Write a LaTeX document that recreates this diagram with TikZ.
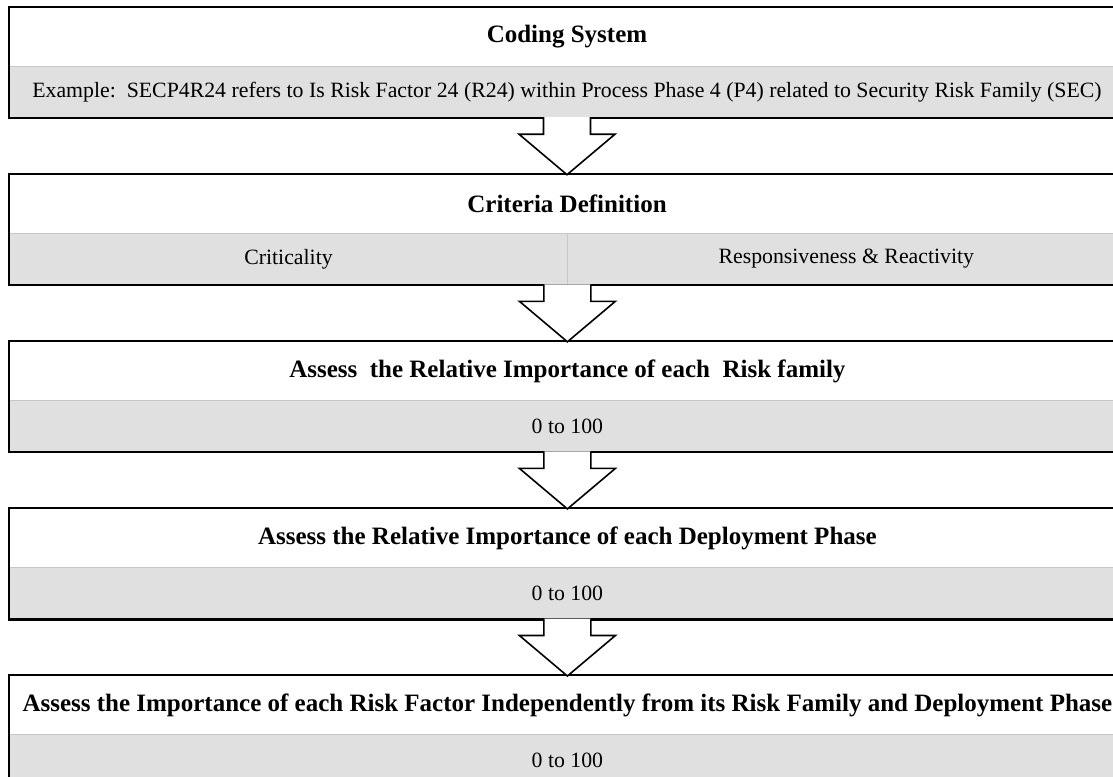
\documentclass[tikz,border=0pt]{standalone}
\usepackage{fontspec}
\setmainfont{Liberation Serif}
\usetikzlibrary{positioning,backgrounds}
\newcommand*\stagearrow[2]{%
  \draw[stagearrow] ([xshift=-11.75pt]#1) -- ([xshift=-11.75pt,yshift=-8.5pt]#1)
    -- ([xshift=-24pt,yshift=-8.5pt]#1) -- (#2)
    -- ([xshift=24pt,yshift=-8.5pt]#1) -- ([xshift=11.75pt,yshift=-8.5pt]#1)
    -- ([xshift=11.75pt]#1);}

\begin{document}
\begin{tikzpicture}[
        x=0.5pt, y=-0.5pt,
        node distance=28.75pt,
        stagetitle/.style={fill=white, minimum width=557pt, minimum height=29pt, inner sep=0pt, font=\bfseries\fontsize{12.5}{14}\selectfont},
        stagebody/.style={fill=black!12, minimum width=557pt, minimum height=25pt, inner sep=0pt, font=\fontsize{10.9}{13}\selectfont},
        halfbody/.style={stagebody, minimum width=278.5pt},
        frame/.style={draw, line width=2pt},
        divider/.style={draw=black!22, line width=0.6pt},
        stagearrow/.style={draw, fill=white, line width=0.8pt, line join=miter},
    ]
    \clip (0,0) rectangle (1113,776);
        \node[stagetitle] (coding) at (567,37) {Coding System};
        \node[stagebody, below=0pt of coding] (codingex) {Example:\ \ SECP4R24 refers to Is Risk Factor 24 (R24) within Process Phase 4 (P4) related to Security Risk Family (SEC)};
        \node[stagetitle, below=of codingex] (criteria) {Criteria Definition};
        \node[halfbody, anchor=north west] (crit) at (criteria.south west) {Criticality};
        \node[halfbody, right=0pt of crit] (resp) {Responsiveness \& Reactivity};
        \node[stagetitle, below=of crit.south east] (family) {Assess\ \ the Relative Importance of each\ \ Risk family};
        \node[stagebody, below=0pt of family] (familyval) {0 to 100};
        \node[stagetitle, below=of familyval] (phase) {Assess the Relative Importance of each Deployment Phase};
        \node[stagebody, below=0pt of phase] (phaseval) {0 to 100};
        \node[stagetitle, below=of phaseval] (factor) {Assess the Importance of each Risk Factor Independently from its Risk Family and Deployment Phase};
        \node[stagebody, below=0pt of factor] (factorval) {0 to 100};

    \begin{scope}[on background layer]
        \draw[frame] (coding.north west) rectangle (codingex.south east);
        \draw[frame] (criteria.north west) rectangle (resp.south east);
        \draw[frame] (family.north west) rectangle (familyval.south east);
        \draw[frame] (phase.north west) rectangle (phaseval.south east);
        \draw[frame] (factor.north west) rectangle (factorval.south east);
    \end{scope}

    \draw[divider] (coding.south west) -- (coding.south east);
    \draw[divider] (criteria.south west) -- (criteria.south east);
    \draw[divider] (crit.north east) -- (crit.south east);
    \draw[divider] (family.south west) -- (family.south east);
    \draw[divider] (phase.south west) -- (phase.south east);
    \draw[divider] (factor.south west) -- (factor.south east);

    \stagearrow{codingex.south}{criteria.north}
    \stagearrow{crit.south east}{family.north}
    \stagearrow{familyval.south}{phase.north}
    \stagearrow{phaseval.south}{factor.north}
\end{tikzpicture}
\end{document}
